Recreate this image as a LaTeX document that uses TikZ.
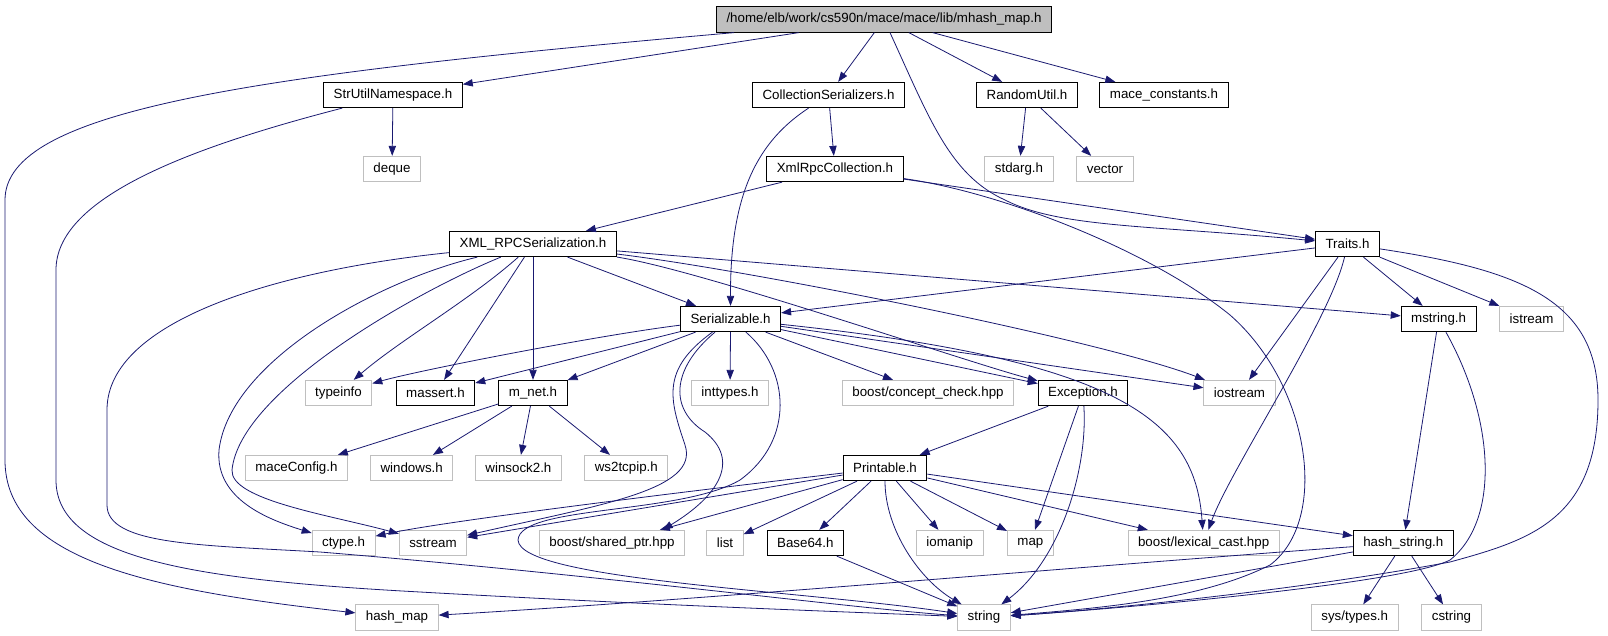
\documentclass[tikz,border=0pt]{standalone}
\usepackage{fontspec}
\setmainfont{Liberation Sans}
\usetikzlibrary{arrows.meta}
\definecolor{linkblue}{HTML}{191970}
\definecolor{boxgray}{HTML}{BFBFBF}

\begin{document}
\begin{tikzpicture}[x=0.75pt,y=-0.75pt]

      \tikzstyle{docbox}=[rectangle,draw=black,line width=0.7pt,
        inner xsep=7.5pt,inner ysep=2pt,minimum height=19pt,
        font=\fontsize{10}{12}\selectfont]
      \tikzstyle{sysbox}=[docbox,draw=boxgray]
      \tikzstyle{rootbox}=[docbox,fill=boxgray]
      \tikzstyle{depline}=[-{Triangle[length=7.5pt,width=5.5pt]},
        color=linkblue,line width=0.6pt]

      \useasboundingbox (0,0) rectangle (1608,635);

      \node(Root)[rootbox] at (884,19.5){/home/elb/work/cs590n/mace/mace/lib/mhash\_map.h};

      \node(StrUtil)[docbox] at (393,95){StrUtilNamespace.h};
      \node(CollSer)[docbox] at (828.5,95){CollectionSerializers.h};
      \node(RandomUtil)[docbox] at (1027,95){RandomUtil.h};
      \node(MaceConst)[docbox] at (1164,95){mace\_constants.h};

      \node(Deque)[sysbox] at (392,169){deque};
      \node(XmlColl)[docbox] at (835,169){XmlRpcCollection.h};
      \node(Stdarg)[sysbox] at (1019,169){stdarg.h};
      \node(Vector)[sysbox] at (1105,169){vector};

      \node(XmlSer)[docbox] at (533,244){XML\_RPCSerialization.h};
      \node(Traits)[docbox] at (1347.5,244){Traits.h};

      \node(Serial)[docbox] at (730.6,319){Serializable.h};
      \node(MString)[docbox] at (1438.6,319){mstring.h};
      \node(Istream)[sysbox] at (1531.5,319){istream};

      \node(Typeinfo)[sysbox] at (338.5,393){typeinfo};
      \node(Massert)[docbox] at (435.5,393){massert.h};
      \node(MNet)[docbox] at (533,393){m\_net.h};
      \node(Inttypes)[sysbox] at (730,393){inttypes.h};
      \node(Concept)[sysbox] at (928,393){boost/concept\_check.hpp};
      \node(Exception)[docbox] at (1083,393){Exception.h};
      \node(Iostream)[sysbox] at (1239.5,393){iostream};

      \node(MaceConfig)[sysbox] at (296.4,468){maceConfig.h};
      \node(Windows)[sysbox] at (411.7,468){windows.h};
      \node(Winsock)[sysbox] at (518.4,468){winsock2.h};
      \node(Ws2tcpip)[sysbox] at (626.3,468){ws2tcpip.h};
      \node(Printable)[docbox] at (885,468){Printable.h};

      \node(Ctype)[sysbox] at (343.6,543){ctype.h};
      \node(Sstream)[sysbox] at (433,543){sstream};
      \node(SharedPtr)[sysbox] at (612,543){boost/shared\_ptr.hpp};
      \node(List)[sysbox] at (725,543){list};
      \node(Base64)[docbox] at (805.3,543){Base64.h};
      \node(Iomanip)[sysbox] at (949.8,543){iomanip};
      \node(Map)[sysbox] at (1030.4,543){map};
      \node(LexCast)[sysbox] at (1203.6,543){boost/lexical\_cast.hpp};
      \node(HashString)[docbox] at (1403.3,543){hash\_string.h};

      \node(HashMap)[sysbox] at (397,617.5){hash\_map};
      \node(String)[sysbox] at (984,617.5){string};
      \node(SysTypes)[sysbox] at (1354.7,617.5){sys/types.h};
      \node(Cstring)[sysbox] at (1451.5,617.5){cstring};

      \draw [depline] (Root) .. controls (250,75) and (5,110) .. (5,200)
        -- (5,460) .. controls (5,560) and (150,590) .. (HashMap);
      \draw [depline] (Root)--(StrUtil);
      \draw [depline] (Root)--(CollSer);
      \draw [depline] (Root) .. controls (930,120) and (950,175) .. (1005,200)
        .. controls (1060,228) and (1150,225) .. (Traits);
      \draw [depline] (Root)--(RandomUtil);
      \draw [depline] (Root)--(MaceConst);

      \draw [depline] (StrUtil)--(Deque);
      \draw [depline] (StrUtil) .. controls (180,150) and (56,200) .. (56,270)
        -- (56,480) .. controls (56,560) and (200,580) .. (420,592)
        .. controls (650,605) and (850,612) .. (String);
      \draw [depline] (CollSer)--(XmlColl);
      \draw [depline] (CollSer) .. controls (760,140) and (730,190) .. (Serial);
      \draw [depline] (RandomUtil)--(Stdarg);
      \draw [depline] (RandomUtil)--(Vector);

      \draw [depline] (XmlColl)--(XmlSer);
      \draw [depline] (XmlColl)--(Traits);
      \draw [depline] (XmlColl) .. controls (1000,192) and (1150,250) .. (1230,315)
        .. controls (1310,385) and (1330,520) .. (1270,565)
        .. controls (1200,600) and (1100,608) .. (String);

      \draw [depline] (XmlSer) .. controls (280,270) and (107,320) .. (107,410)
        -- (107,505) .. controls (107,545) and (200,545) .. (320,552)
        .. controls (600,575) and (850,608) .. (String);
      \draw [depline] (XmlSer) .. controls (380,280) and (230,360) .. (219,450)
        .. controls (215,500) and (270,520) .. (Ctype);
      \draw [depline] (XmlSer) .. controls (420,290) and (240,390) .. (232,470)
        .. controls (230,500) and (330,515) .. (Sstream);
      \draw [depline] (XmlSer) .. controls (470,300) and (400,340) .. (Typeinfo);
      \draw [depline] (XmlSer)--(Massert);
      \draw [depline] (XmlSer)--(MNet);
      \draw [depline] (XmlSer)--(Serial);
      \draw [depline] (XmlSer) .. controls (700,270) and (960,360) .. (Exception);
      \draw [depline] (XmlSer) .. controls (750,270) and (1100,340) .. (Iostream);
      \draw [depline] (XmlSer)--(MString);

      \draw [depline] (Traits)--(Serial);
      \draw [depline] (Traits)--(Iostream);
      \draw [depline] (Traits) .. controls (1330,320) and (1230,470) .. (LexCast);
      \draw [depline] (Traits)--(MString);
      \draw [depline] (Traits)--(Istream);
      \draw [depline] (Traits) .. controls (1520,270) and (1598,300) .. (1598,400)
        .. controls (1598,520) and (1530,540) .. (1450,562)
        .. controls (1300,590) and (1100,610) .. (String);

      \draw [depline] (Serial) .. controls (600,335) and (420,370) .. (Typeinfo);
      \draw [depline] (Serial)--(Massert);
      \draw [depline] (Serial)--(MNet);
      \draw [depline] (Serial)--(Inttypes);
      \draw [depline] (Serial)--(Concept);
      \draw [depline] (Serial)--(Exception);
      \draw [depline] (Serial)--(Iostream);
      \draw [depline] (Serial) .. controls (1120,360) and (1195,420) .. (LexCast);
      \draw [depline] (Serial) .. controls (660,370) and (670,400) .. (685,445)
        .. controls (700,490) and (600,505) .. (Sstream);
      \draw [depline] (Serial) .. controls (670,370) and (670,410) .. (705,432)
        .. controls (740,460) and (720,495) .. ([xshift=38pt]SharedPtr.north);
      \draw [depline] (Serial) .. controls (790,370) and (795,440) .. (740,480)
        .. controls (680,515) and (520,505) .. (518,540)
        .. controls (520,580) and (800,590) .. (String);

      \draw [depline] (MString)--(HashString);
      \draw [depline] (MString) .. controls (1495,420) and (1500,520) .. (1450,560)
        .. controls (1400,585) and (1100,610) .. (String);

      \draw [depline] (MNet)--(MaceConfig);
      \draw [depline] (MNet)--(Windows);
      \draw [depline] (MNet)--(Winsock);
      \draw [depline] (MNet)--(Ws2tcpip);

      \draw [depline] (Exception)--(Printable);
      \draw [depline] (Exception)--(Map);
      \draw [depline] (Exception) .. controls (1088,470) and (1060,560) .. (String);

      \draw [depline] (Printable) .. controls (700,490) and (450,520) .. (Ctype);
      \draw [depline] (Printable)--(Sstream);
      \draw [depline] (Printable)--(SharedPtr);
      \draw [depline] (Printable)--(List);
      \draw [depline] (Printable)--(Base64);
      \draw [depline] (Printable) .. controls (885,530) and (920,580) .. (String);
      \draw [depline] (Printable)--(Iomanip);
      \draw [depline] (Printable)--(Map);
      \draw [depline] (Printable)--(LexCast);
      \draw [depline] (Printable)--(HashString);

      \draw [depline] (Base64)--(String);

      \draw [depline] (HashString) .. controls (1100,565) and (700,600) .. (HashMap);
      \draw [depline] (HashString)--(String);
      \draw [depline] (HashString)--(SysTypes);
      \draw [depline] (HashString)--(Cstring);

    \end{tikzpicture}
\end{document}
